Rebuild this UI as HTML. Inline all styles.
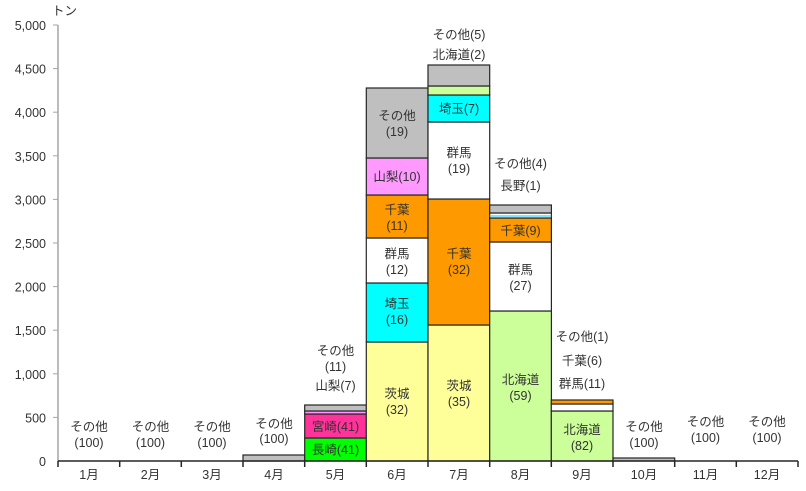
<!DOCTYPE html>
<html><head><meta charset="utf-8"><style>body{margin:0;background:#fff}svg{display:block}text{font-family:"Liberation Sans","Noto Sans CJK JP",sans-serif;font-size:12.5px;fill:#333}</style></head><body>
<svg width="806" height="491" viewBox="0 0 806 491">
<g stroke="#262626" stroke-width="1.2">
<rect x="243" y="455" width="61.7" height="6" fill="#BFBFBF"/>
<rect x="304.7" y="438" width="61.7" height="23" fill="#00FF00"/>
<rect x="304.7" y="414" width="61.7" height="24" fill="#FF3399"/>
<rect x="304.7" y="411" width="61.7" height="3" fill="#FF99FF"/>
<rect x="304.7" y="405" width="61.7" height="6" fill="#BFBFBF"/>
<rect x="366.3" y="342" width="61.7" height="119" fill="#FFFF99"/>
<rect x="366.3" y="283" width="61.7" height="59" fill="#00FFFF"/>
<rect x="366.3" y="238" width="61.7" height="45" fill="#FFFFFF"/>
<rect x="366.3" y="195" width="61.7" height="43" fill="#FF9900"/>
<rect x="366.3" y="158" width="61.7" height="37" fill="#FF99FF"/>
<rect x="366.3" y="88" width="61.7" height="70" fill="#BFBFBF"/>
<rect x="428" y="325" width="61.7" height="136" fill="#FFFF99"/>
<rect x="428" y="199" width="61.7" height="126" fill="#FF9900"/>
<rect x="428" y="122" width="61.7" height="77" fill="#FFFFFF"/>
<rect x="428" y="95" width="61.7" height="27" fill="#00FFFF"/>
<rect x="428" y="86" width="61.7" height="9" fill="#CCFF99"/>
<rect x="428" y="65" width="61.7" height="21" fill="#BFBFBF"/>
<rect x="489.7" y="311" width="61.7" height="150" fill="#CCFF99"/>
<rect x="489.7" y="242" width="61.7" height="69" fill="#FFFFFF"/>
<rect x="489.7" y="218" width="61.7" height="24" fill="#FF9900"/>
<rect x="489.7" y="213" width="61.7" height="5" fill="#FFFFFF"/>
<rect x="489.7" y="205" width="61.7" height="8" fill="#BFBFBF"/>
<rect x="551.3" y="411" width="61.7" height="50" fill="#CCFF99"/>
<rect x="551.3" y="404" width="61.7" height="7" fill="#FFFFFF"/>
<rect x="551.3" y="400" width="61.7" height="4" fill="#FF9900"/>
<rect x="613" y="458" width="61.7" height="3" fill="#BFBFBF"/>
</g>
<line x1="489.7" y1="216" x2="551.3" y2="216" stroke="#00CCFF" stroke-width="1"/>
<g stroke="#A6A6A6" stroke-width="1.5"><line x1="58" y1="25" x2="58" y2="461"/></g>
<g stroke="#A6A6A6"><line x1="53" y1="25" x2="58" y2="25"/><line x1="53" y1="68.6" x2="58" y2="68.6"/><line x1="53" y1="112.2" x2="58" y2="112.2"/><line x1="53" y1="155.8" x2="58" y2="155.8"/><line x1="53" y1="199.4" x2="58" y2="199.4"/><line x1="53" y1="243" x2="58" y2="243"/><line x1="53" y1="286.6" x2="58" y2="286.6"/><line x1="53" y1="330.2" x2="58" y2="330.2"/><line x1="53" y1="373.8" x2="58" y2="373.8"/><line x1="53" y1="417.4" x2="58" y2="417.4"/></g>
<g stroke="#262626" stroke-width="1.5"><line x1="58" y1="461" x2="798" y2="461"/>
<line x1="58" y1="461" x2="58" y2="467"/><line x1="119.7" y1="461" x2="119.7" y2="467"/><line x1="181.3" y1="461" x2="181.3" y2="467"/><line x1="243" y1="461" x2="243" y2="467"/><line x1="304.7" y1="461" x2="304.7" y2="467"/><line x1="366.3" y1="461" x2="366.3" y2="467"/><line x1="428" y1="461" x2="428" y2="467"/><line x1="489.7" y1="461" x2="489.7" y2="467"/><line x1="551.3" y1="461" x2="551.3" y2="467"/><line x1="613" y1="461" x2="613" y2="467"/><line x1="674.7" y1="461" x2="674.7" y2="467"/><line x1="736.3" y1="461" x2="736.3" y2="467"/><line x1="798" y1="461" x2="798" y2="467"/></g>
<g text-anchor="end" style="font-size:13.5px">
<text x="46" y="30">5,000</text><text x="46" y="73.6">4,500</text><text x="46" y="117.2">4,000</text><text x="46" y="160.8">3,500</text><text x="46" y="204.4">3,000</text><text x="46" y="248">2,500</text><text x="46" y="291.6">2,000</text><text x="46" y="335.2">1,500</text><text x="46" y="378.8">1,000</text><text x="46" y="422.4">500</text><text x="46" y="466">0</text></g>
<text x="52" y="15">トン</text>
<g text-anchor="middle">
<text x="89" y="479">1月</text><text x="150.5" y="479">2月</text><text x="212" y="479">3月</text><text x="274" y="479">4月</text><text x="335.5" y="479">5月</text><text x="397" y="479">6月</text><text x="459" y="479">7月</text><text x="520.5" y="479">8月</text><text x="582" y="479">9月</text><text x="644" y="479">10月</text><text x="705.5" y="479">11月</text><text x="767" y="479">12月</text>
<text x="89" y="431">その他</text><text x="89" y="447">(100)</text>
<text x="150.5" y="431">その他</text><text x="150.5" y="447">(100)</text>
<text x="212" y="431">その他</text><text x="212" y="447">(100)</text>
<text x="274" y="428">その他</text><text x="274" y="443">(100)</text>
<text x="644" y="431">その他</text><text x="644" y="447">(100)</text>
<text x="705.5" y="426">その他</text><text x="705.5" y="442">(100)</text>
<text x="767" y="426">その他</text><text x="767" y="442">(100)</text>
<text x="335.5" y="355">その他</text><text x="335.5" y="371">(11)</text><text x="335.5" y="390">山梨(7)</text>
<text x="335.5" y="431">宮崎(41)</text><text x="335.5" y="454">長崎(41)</text>
<text x="397" y="398">茨城</text><text x="397" y="414">(32)</text>
<text x="397" y="308">埼玉</text><text x="397" y="324">(16)</text>
<text x="397" y="258">群馬</text><text x="397" y="274">(12)</text>
<text x="397" y="214">千葉</text><text x="397" y="230">(11)</text>
<text x="397" y="181">山梨(10)</text>
<text x="397" y="120">その他</text><text x="397" y="136">(19)</text>
<text x="459" y="390">茨城</text><text x="459" y="406">(35)</text>
<text x="459" y="258">千葉</text><text x="459" y="274">(32)</text>
<text x="459" y="157">群馬</text><text x="459" y="173">(19)</text>
<text x="459" y="113">埼玉(7)</text>
<text x="459" y="39">その他(5)</text><text x="459" y="59">北海道(2)</text>
<text x="520.5" y="384">北海道</text><text x="520.5" y="400">(59)</text>
<text x="520.5" y="274">群馬</text><text x="520.5" y="290">(27)</text>
<text x="520.5" y="235">千葉(9)</text>
<text x="520.5" y="168">その他(4)</text><text x="520.5" y="190">長野(1)</text>
<text x="582" y="434">北海道</text><text x="582" y="450">(82)</text>
<text x="582" y="341">その他(1)</text><text x="582" y="365">千葉(6)</text><text x="582" y="388">群馬(11)</text>
</g>
</svg></body></html>
